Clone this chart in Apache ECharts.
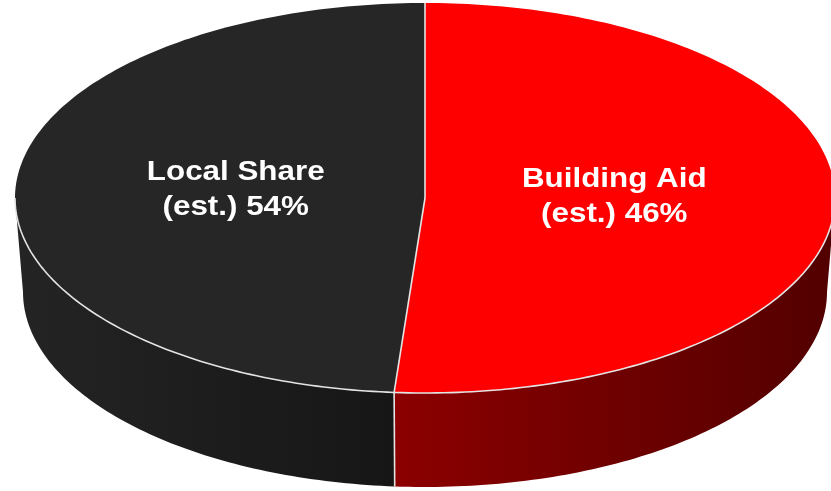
<!DOCTYPE html>
<html>
<head>
<meta charset="utf-8">
<title>Building Aid / Local Share</title>
<script src="https://cdn.jsdelivr.net/npm/echarts@6/dist/echarts.min.js"></script>
<style>
  html, body { margin: 0; padding: 0; background: #fff; }
  #chart { width: 831px; height: 491px; }
</style>
</head>
<body>
<div id="chart"></div>
<script>
// slices run clockwise from 12 o'clock
const categories = ['Building Aid', 'Local Share'];
// slice sizes as they are drawn in the picture (the printed labels are "est." figures)
const sliceShares = [51.2, 48.8];
const labelPercents = ['46%', '54%'];

const topColors = ['#ff0000', '#262626'];
const wallColors = [['#8c0000', '#520000'], ['#242424', '#161616']];
const edgeColor = '#e4e4e4';

// tilted disc, in px
const disc = { cx: 425, cy: 198, rx: 410, ry: 195, depth: 94, bottomRx: 402, startAngle: 0 };
const labelPos = { k: 0.462, dy: -5 };

const total = sliceShares.reduce((s, v) => s + v, 0);

function topPt(deg) {
    const r = deg * Math.PI / 180;
    return [disc.cx + disc.rx * Math.sin(r), disc.cy - disc.ry * Math.cos(r)];
}

function bottomPt(deg) {
    const r = deg * Math.PI / 180;
    return [disc.cx + disc.bottomRx * Math.sin(r), disc.cy + disc.depth - disc.ry * Math.cos(r)];
}

function arc(fn, a, b) {
    const pts = [];
    const n = Math.max(2, Math.ceil(Math.abs(b - a)));
    for (let i = 0; i <= n; i++) {
        pts.push(fn(a + (b - a) * i / n));
    }
    return pts;
}

function renderItem(params, api) {
    const i = params.dataIndex;
    let before = 0;
    for (let k = 0; k < i; k++) before += sliceShares[k];
    const a = disc.startAngle + before / total * 360;
    const b = a + api.value(0) / total * 360;
    const children = [];

    // side wall, only the front half shows
    const s = Math.max(a, 90), e = Math.min(b, 270);
    if (e > s) {
        const top = arc(topPt, s, e);
        const bot = arc(bottomPt, e, s);
        const xs = top.concat(bot).map(p => p[0]);
        children.push({
            type: 'polygon',
            shape: { points: top.concat(bot) },
            style: {
                fill: {
                    type: 'linear', global: true,
                    x: Math.min(...xs), y: 0, x2: Math.max(...xs), y2: 0,
                    colorStops: [
                        { offset: 0, color: wallColors[i][0] },
                        { offset: 1, color: wallColors[i][1] }
                    ]
                }
            }
        });
        // white rim along the front edge
        children.push({
            type: 'polyline', z2: 10,
            shape: { points: top },
            style: { stroke: edgeColor, lineWidth: 1.6, fill: null }
        });
    }

    // top face
    children.push({
        type: 'polygon',
        shape: { points: [[disc.cx, disc.cy]].concat(arc(topPt, a, b)) },
        style: { fill: topColors[i] }
    });

    // slice edges
    const p = topPt(a);
    children.push({
        type: 'line', z2: 10,
        shape: { x1: disc.cx, y1: disc.cy, x2: p[0], y2: p[1] },
        style: { stroke: edgeColor, lineWidth: 1.6 }
    });
    if (a > 90 && a < 270) {
        const q = bottomPt(a);
        children.push({
            type: 'line', z2: 10,
            shape: { x1: p[0], y1: p[1], x2: q[0], y2: q[1] },
            style: { stroke: edgeColor, lineWidth: 1.6 }
        });
    }

    // label
    const m = (a + b) / 2 * Math.PI / 180;
    children.push({
        type: 'text', z2: 20,
        x: disc.cx + labelPos.k * disc.rx * Math.sin(m),
        y: disc.cy - labelPos.k * disc.ry * Math.cos(m) + labelPos.dy,
        scaleX: 1.12,
        style: {
            text: categories[i] + '\n(est.) ' + labelPercents[i],
            fill: '#ffffff',
            fontFamily: '"Liberation Sans", Arial, sans-serif',
            fontWeight: 'bold',
            fontSize: 28,
            lineHeight: 35,
            align: 'center',
            verticalAlign: 'middle'
        }
    });

    return { type: 'group', children: children };
}

const chart = echarts.init(document.getElementById('chart'));
chart.setOption({
    animation: false,
    series: [{
        type: 'custom',
        coordinateSystem: 'none',
        renderItem: renderItem,
        data: sliceShares.map((v, i) => ({ name: categories[i], value: v }))
    }]
});
</script>
</body>
</html>
